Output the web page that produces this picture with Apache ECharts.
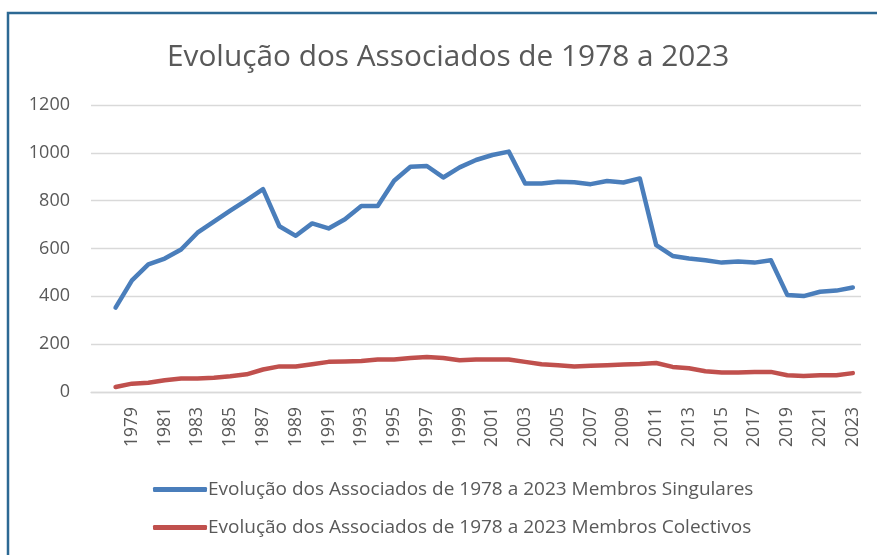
<!DOCTYPE html>
<html>
<head>
<meta charset="utf-8">
<script src="https://cdn.jsdelivr.net/npm/echarts@6/dist/echarts.min.js"></script>
<style>
html,body{margin:0;padding:0;background:#fff;}
#chart{width:877px;height:555px;}
</style>
</head>
<body>
<div id="chart"></div>
<script>
// Categories: first category is blank (as in the source spreadsheet), then 1978..2023
const categories = ['', '1978','1979','1980','1981','1982','1983','1984','1985','1986','1987','1988','1989','1990','1991','1992','1993','1994','1995','1996','1997','1998','1999','2000','2001','2002','2003','2004','2005','2006','2007','2008','2009','2010','2011','2012','2013','2014','2015','2016','2017','2018','2019','2020','2021','2022','2023'];

const singulares = [null, 353,467,534,558,596,666,712,758,802,848,693,653,705,684,722,778,778,883,942,945,897,939,970,991,1005,872,872,879,877,869,882,876,893,614,569,558,551,541,546,541,551,406,401,419,424,437];

const colectivos = [null, 21,35,39,49,56,56,60,66,74,94,107,107,116,126,128,130,136,136,142,146,142,133,136,136,136,126,116,112,107,110,112,115,117,121,105,99,87,82,82,84,84,70,67,70,70,79];

const yTicks = [0, 200, 400, 600, 800, 1000, 1200];

const titleText = 'Evolução dos Associados de 1978 a 2023';
const seriesNames = ['Evolução dos Associados de 1978 a 2023 Membros Singulares', 'Evolução dos Associados de 1978 a 2023 Membros Colectivos'];

const chart = echarts.init(document.getElementById('chart'), null, {renderer: 'canvas'});
const font = '"Open Sans", "Noto Sans", sans-serif';
chart.setOption({
  animation: false,
  backgroundColor: '#ffffff',
  textStyle: {fontFamily: font},
  title: {
    text: titleText,
    left: 162,
    top: 38,
    textStyle: {fontFamily: font, fontSize: 29.8, fontWeight: 'normal', color: '#595959'}
  },
  graphic: [{
    type: 'rect',
    shape: {x: 8, y: 13, width: 1000, height: 700},
    style: {fill: 'none', stroke: '#2c6994', lineWidth: 2.5},
    silent: true
  }],
  grid: {left: 91, right: 16, top: 105, bottom: 163, containLabel: false},
  xAxis: {
    type: 'category',
    data: categories,
    boundaryGap: true,
    axisLine: {show: true, lineStyle: {color: '#d9d9d9', width: 1.3}},
    axisTick: {show: false},
    axisLabel: {interval: 1, rotate: 90, margin: 15, fontSize: 17.5, color: '#595959', fontFamily: font}
  },
  yAxis: {
    type: 'value',
    min: yTicks[0],
    max: yTicks[yTicks.length - 1],
    interval: 200,
    axisLine: {show: false},
    axisTick: {show: false},
    axisLabel: {margin: 21, fontSize: 18, color: '#595959', fontFamily: font,
      formatter: function (v) { return String(v); }},
    splitLine: {lineStyle: {color: '#d9d9d9', width: 1.3}}
  },
  legend: {
    orient: 'vertical',
    left: 148,
    top: 475,
    itemGap: 19,
    itemWidth: 54,
    itemHeight: 5,
    icon: 'roundRect',
    textStyle: {fontSize: 19, color: '#595959', fontFamily: font, padding: [0, 0, 0, -4]},
    data: seriesNames
  },
  series: [
    {
      name: seriesNames[0], type: 'line', data: singulares,
      showSymbol: false, symbol: 'none', connectNulls: false,
      lineStyle: {color: '#4a7ebb', width: 4.5, cap: 'round', join: 'round'},
      itemStyle: {color: '#4a7ebb'}
    },
    {
      name: seriesNames[1], type: 'line', data: colectivos,
      showSymbol: false, symbol: 'none', connectNulls: false,
      lineStyle: {color: '#c0504d', width: 4.5, cap: 'round', join: 'round'},
      itemStyle: {color: '#c0504d'}
    }
  ]
});
</script>
</body>
</html>
